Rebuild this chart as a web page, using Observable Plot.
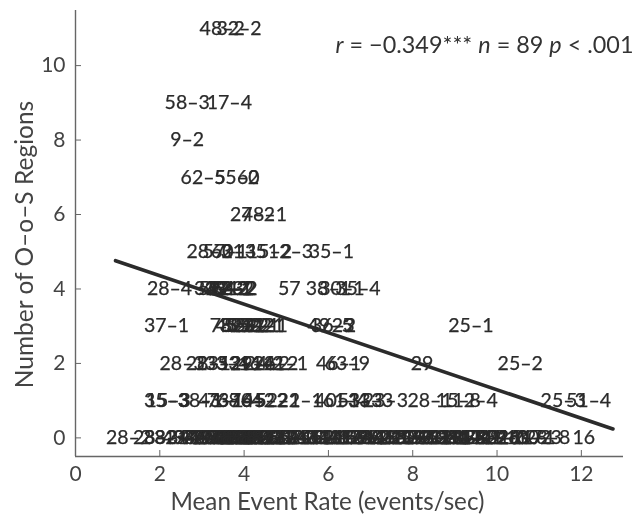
<!DOCTYPE html>
<html>
<head>
<meta charset="utf-8">
<script src="https://cdn.jsdelivr.net/npm/d3@7"></script>
<script src="https://cdn.jsdelivr.net/npm/@observablehq/plot@0.6"></script>
<style>
html,body{margin:0;padding:0;background:#fff}
svg{display:block;filter:blur(0.45px)}
</style>
</head>
<body>
<div id="chart"></div>
<script>
const labels11 = ["48–2","32–2"];
const rates11 = [3.48,3.88];
const labels9 = ["58–3","17–4"];
const rates9 = [2.65,3.65];
const labels8 = ["9–2"];
const rates8 = [2.65];
const labels7 = ["62–5","55–2","60"];
const rates7 = [3.03,3.82,4.1];
const labels6 = ["27–2","48–1"];
const rates6 = [4.2,4.48];
const labels5 = ["28–3","57–1","60–3","21–5","15–2","12–3","35–1"];
const rates5 = [3.17,3.55,3.75,4.0,4.6,5.1,6.07];
const labels4 = ["28–4","32–1","59–3","40–2","33–2","42–1","22–2","63–2","54–2","57","38–1","30–1","35–4"];
const rates4 = [2.23,3.35,3.45,3.55,3.6,3.65,3.7,3.75,3.78,5.07,6.0,6.32,6.7];
const labels3 = ["37–1","78–3","43–2","39–2","52–2","55–2","27–2","59–1","50–1","11–1","49–5","36–2","23"];
const rates3 = [2.16,3.72,3.85,3.95,4.05,4.12,4.2,4.3,4.42,4.5,6.04,6.12,6.35];
const labels3b = ["25–1"];
const rates3b = [9.38];
const labels2 = ["28–3","28–1","23–2","33–1","53–1","29–2","46–2","24–2","26–2","41–1","46–1","63–9","29","25–2"];
const rates2 = [2.53,3.15,3.4,3.6,3.9,4.2,4.4,4.55,4.75,4.98,6.24,6.45,8.22,10.55];
const labels1 = ["35–3","15–3","38–1","43–1","73–6","68–4","70–2","45–2","52–1","22–1","40–1","61–4","53–3","33–3","23–3","28–1","15–8","12–4","25–3","51–4"];
const rates1 = [2.16,2.2,2.96,3.45,3.65,3.9,4.2,4.5,4.8,5.33,6.2,6.4,6.75,7.0,7.35,8.41,9.08,9.48,11.57,12.17];
const labels0 = ["28–2","28–3","38–1","32–4","49–1","33–2","47–2","42–3","19–1","65–2","34–1","21–3","54–1","44–2","26–1","13–2","61–1","39–3","50–2","24–1","66–1","41–2","30–2","18–1","55–1","27–1","67–2","36–1","14–2","43–3","56–1","20–1","64–1","52–3","31–2","11–2","46–3","68–1","37–2","16–1","59–2","23–1","69–1","40–3","12–1","60–1","48–3","22–1","63–1","35–2","10–1","58–1","19–2","29–1","53–2","45–1","33–1","70–1","21–1","9–1","38–2","28–5","61–2","51–1","17–2","44–1","34–2","8–1","28–6","49–2","19–3","28–7","10–2","11–1","10–3","28–8","16","72–1","74–2","75–1","76–2","77–1","79–1","80–2","81–1","82–2","83–1","84–2","85–1","86–2","87–1"];
const rates0 = [1.26,1.9,2.15,2.4,2.6,2.85,3.0,3.1,3.25,3.35,3.45,3.6,3.7,3.8,3.95,4.05,4.15,4.3,4.4,4.5,4.65,4.75,4.9,5.0,5.1,5.25,5.35,5.5,5.6,5.75,5.85,5.95,6.05,6.15,6.3,6.4,6.5,6.6,6.75,6.85,6.95,7.05,7.2,7.3,7.4,7.5,7.6,7.75,7.85,7.95,8.05,8.15,8.3,8.4,8.5,8.6,8.7,8.8,8.9,9.0,9.1,9.2,9.3,9.4,9.5,9.6,9.75,9.9,10.0,10.1,10.2,10.55,10.75,10.85,11.0,11.2,12.06,3.05,3.18,3.3,3.52,3.66,3.75,3.88,4.0,4.1,4.22,4.35,4.45,4.58,4.7];

const fit_x = [0.95,12.75];
const fit_y = [4.76,0.24];
const xTicks = [0,2,4,6,8,10,12];
const yTicks = [0,2,4,6,8,10];
const xTitle = "Mean Event Rate (events/sec)";
const yTitle = "Number of O–o–S Regions";

const rows = [
  [11,labels11,rates11],[9,labels9,rates9],[8,labels8,rates8],[7,labels7,rates7],
  [6,labels6,rates6],[5,labels5,rates5],[4,labels4,rates4],[3,labels3,rates3],[3,labels3b,rates3b],
  [2,labels2,rates2],[1,labels1,rates1],[0,labels0,rates0]
];
const pts = rows.flatMap(([y,ls,rs]) => ls.map((l,i) => ({label:l,x:rs[i],y})));
const fit = fit_x.map((x,i) => ({x,y:fit_y[i]}));

const ink = "#2a2a2a";
const axisInk = "#666";
const font = "Lato, 'Noto Sans', sans-serif";

const chart = Plot.plot({
  width: 642, height: 515,
  marginLeft: 75, marginRight: 19, marginTop: 10, marginBottom: 59,
  style: {fontFamily: font, background: "#fff"},
  x: {domain: [0,13], label: null},
  y: {domain: [-0.5,11.48], label: null},
  marks: [
    Plot.ruleX([0], {stroke: axisInk, strokeWidth: 1.4}),
    Plot.ruleY([-0.5], {stroke: axisInk, strokeWidth: 1.4}),
    Plot.axisX({ticks: xTicks, tickSize: -6, tickPadding: 16, stroke: axisInk, fill: "#444", fontSize: 21, label: null, tickFormat: d => d}),
    Plot.axisY({ticks: yTicks, tickSize: -6, tickPadding: 16, stroke: axisInk, fill: "#444", fontSize: 21, label: null, tickFormat: d => d}),
    Plot.text(pts, {x: "x", y: "y", text: "label", fontSize: 19.5, fill: ink, stroke: ink, strokeWidth: 0.25}),
    Plot.line(fit, {x: "x", y: "y", stroke: "#2b2b2b", strokeWidth: 3.6}),
    Plot.text([xTitle], {frameAnchor: "bottom", dy: 53, dx: -22, fontSize: 24.2, fill: "#444"}),
    Plot.text([yTitle], {frameAnchor: "left", textAnchor: "middle", rotate: -90, dx: -50, dy: 11, fontSize: 24.5, fill: "#444"}),
    Plot.text(["r = −0.349*** n = 89 p < .001"], {frameAnchor: "top-right", dx: 10, dy: 26, fontSize: 23.4, fill: "#333", className: "annot"})
  ]
});
document.getElementById("chart").appendChild(chart);

// italicise the statistic letters in the annotation
const annot = d3.select(chart).select(".annot text");
const content = annot.text();
annot.text(null);
for (const part of content.split(/(?=\b[rnp]\b)|(?<=\b[rnp]\b)/)) {
  annot.append("tspan").attr("font-style", /^[rnp]$/.test(part) ? "italic" : null).text(part);
}
</script>
</body>
</html>
